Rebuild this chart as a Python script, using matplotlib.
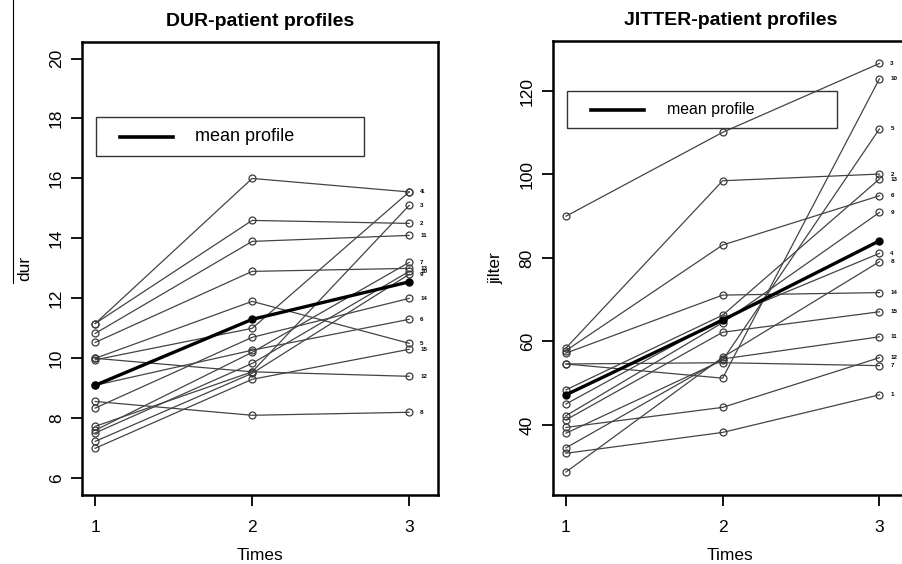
import numpy as np
import matplotlib
matplotlib.use("Agg")
import matplotlib.pyplot as plt
from matplotlib.patches import Rectangle
from matplotlib.lines import Line2D

plt.rcParams['font.family'] = ['Liberation Sans', 'DejaVu Sans']

times = [1, 2, 3]

# DUR: one row per patient (time 1, time 2, time 3)
dur_ids = ["4", "2", "11", "13", "5", "12", "1", "6", "8", "14", "3", "7", "10", "9", "15"]
dur_t1 = [11.16, 11.16, 10.83, 10.53, 10.0, 10.0, 9.95, 9.1, 8.56, 8.34, 7.73, 7.6, 7.51, 7.23, 7.0]
dur_t2 = [16.0, 14.6, 13.9, 12.9, 11.9, 9.55, 11.0, 10.27, 8.1, 10.7, 9.55, 10.2, 9.83, 9.5, 9.3]
dur_t3 = [15.55, 14.5, 14.1, 13.0, 10.5, 9.4, 15.55, 11.3, 8.2, 12.0, 15.1, 13.2, 12.9, 12.8, 10.3]
dur_mean = [9.1, 11.3, 12.55]

# JITTER
jit_ids = ["3", "2", "6", "14", "10", "7", "1", "12", "8", "11", "5", "15", "9", "4", "13"]
jit_t1 = [90.0, 58.4, 57.8, 57.2, 54.6, 54.6, 33.2, 39.4, 28.7, 34.5, 38.0, 41.2, 42.2, 45.0, 48.4]
jit_t2 = [110.1, 98.5, 83.1, 71.1, 51.2, 54.9, 38.2, 44.2, 56.2, 55.8, 55.5, 62.2, 64.5, 65.5, 66.3]
jit_t3 = [126.6, 100.1, 94.9, 71.7, 122.9, 54.2, 47.2, 56.1, 79.1, 61.1, 110.9, 67.1, 90.9, 81.1, 98.9]
jit_mean = [47.2, 65.1, 84.1]


def draw_panel(ax, ids, t1, t2, t3, mean, title, ylab, yticks, ylim, leg_box, leg_fs):
    for pid, a, b, c in zip(ids, t1, t2, t3):
        ax.plot(times, [a, b, c], color="#444444", lw=0.9, marker="o", ms=5,
                mfc="none", mec="#3a3a3a", mew=0.9)
        ax.text(3.07, c, pid, fontsize=4.5, fontweight="bold", va="center", ha="left")
    ax.plot(times, mean, color="black", lw=2.4, marker="o", ms=5, mfc="black", mec="black")
    ax.set_xlim(0.916, 3.184)
    ax.set_ylim(*ylim)
    ax.set_xticks(times)
    ax.set_yticks(yticks)
    ax.set_yticklabels([str(v) for v in yticks], rotation=90, va="center")
    ax.tick_params(length=8, width=1.3, labelsize=12.5, pad=5)
    ax.tick_params(axis="x", pad=10)
    for s in ax.spines.values():
        s.set_linewidth(1.8)
    ax.set_title(title, fontsize=14, fontweight="bold", pad=11)
    ax.set_xlabel("Times", fontsize=12.5, labelpad=9)
    ax.set_ylabel(ylab, fontsize=12.5, labelpad=12)
    # legend box drawn in axes fraction
    x0, y0, w, h = leg_box
    ax.add_patch(Rectangle((x0, y0), w, h, transform=ax.transAxes, fill=False,
                           ec="#333333", lw=1.0, zorder=5))
    ax.add_line(Line2D([x0 + 0.068, x0 + 0.216], [y0 + h / 2] * 2, transform=ax.transAxes,
                       color="black", lw=2.6, zorder=6))
    ax.text(x0 + 0.28, y0 + h / 2, "mean profile", transform=ax.transAxes,
            fontsize=leg_fs, va="center", ha="left", zorder=6)


fig = plt.figure(figsize=(9.02, 5.64), dpi=100)
ax1 = fig.add_axes([0.0909, 0.1223, 0.3947, 0.8037])
ax2 = fig.add_axes([0.6128, 0.1223, 0.3941, 0.8055])

draw_panel(ax1, dur_ids, dur_t1, dur_t2, dur_t3, dur_mean, "DUR-patient profiles", "dur",
           [6, 8, 10, 12, 14, 16, 18, 20], (5.44, 20.56), (0.0385, 0.7485, 0.7545, 0.0847), 13)
draw_panel(ax2, jit_ids, jit_t1, jit_t2, jit_t3, jit_mean, "JITTER-patient profiles", "jilter",
           [40, 60, 80, 100, 120], (23.2, 132.05), (0.041, 0.807, 0.7595, 0.083), 11.4)

# stray vertical rule at the far left of the original
fig.add_artist(Line2D([0.014, 0.014], [1.0, 0.498], transform=fig.transFigure, color="black", lw=0.8))

fig.savefig("out.png", dpi=100)
